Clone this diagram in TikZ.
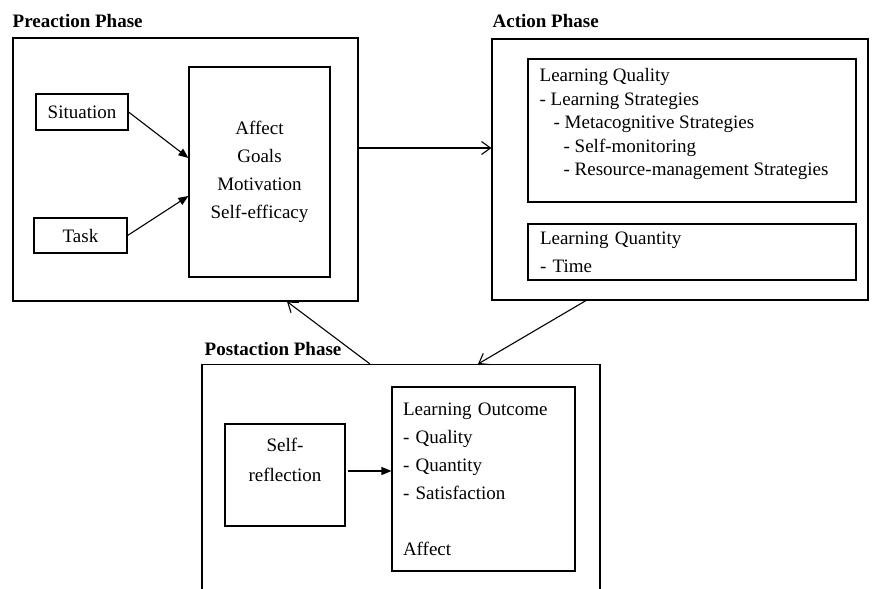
\documentclass[tikz,border=0pt]{standalone}
\usepackage{fontspec}
\setmainfont{Liberation Serif}
\usetikzlibrary{positioning,arrows.meta}

\begin{document}
\begin{tikzpicture}[
x=1pt, y=-1pt,
phase/.style={rectangle, draw=black, line width=1.1pt, inner sep=0pt},
inbox/.style={rectangle, draw=black, line width=1.1pt, inner sep=0pt, align=center, font=\fontsize{19}{28}\selectfont},
listing/.style={inner sep=0pt, align=left, font=\fontsize{19}{23.5}\selectfont},
title/.style={anchor=base west, inner sep=0pt, font=\fontsize{19}{22}\selectfont\bfseries},
flow/.style={-{Triangle[length=10pt, width=8pt]}, line width=1.1pt},
link/.style={-{Straight Barb[length=9pt, width=13pt]}, line width=1.1pt},
]
\useasboundingbox (0,0) rectangle (876,589);
\clip (0,0) rectangle (876,589);

% preaction phase
\node[phase, minimum width=345pt, minimum height=263pt] (pre) at (185.5,169.5) {};
\node[title] (pretitle) at ([yshift=10pt]pre.north west) {Preaction Phase};
\node[inbox, minimum width=92pt, minimum height=36pt] (situation) at (82,112) {Situation};
\node[inbox, minimum width=93pt, minimum height=35pt] (task) at (80.5,235.5) {Task};
\node[inbox, minimum width=141pt, minimum height=210pt] (affect) at (259.5,172)
	{Affect\\Goals\\Motivation\\Self-efficacy};
\draw[flow] (situation.east) -- ([yshift=14pt]affect.west);
\draw[flow] (task.east) -- ([yshift=-24pt]affect.west);

% action phase
\node[phase, minimum width=376pt, minimum height=261pt] (act) at (680,169.5) {};
\node[title] (acttitle) at ([xshift=1pt, yshift=11pt]act.north west) {Action Phase};
\node[phase, minimum width=328pt, minimum height=143pt] (quality) at (692,130.5) {};
\node[listing, below right=10pt and 12pt of quality.north west] (qualitytext)
	{Learning Quality\\- Learning Strategies\\\hspace*{14pt}- Metacognitive Strategies\\
	\hspace*{24pt}- Self-monitoring\\\hspace*{24pt}- Resource-management Strategies};
\node[phase, minimum width=328pt, minimum height=56pt, text width=304pt, align=left,
	font=\fontsize{19}{28}\selectfont] (quantity) at (692,252) {Learning Quantity\\- Time};

% postaction phase
\node[phase, minimum width=398pt, minimum height=300pt, anchor=north] (post) at (401,364) {};
\node[title] (posttitle) at ([xshift=3pt, yshift=9pt]post.north west) {Postaction Phase};
\node[inbox, minimum width=120pt, minimum height=102pt, font=\fontsize{19}{30}\selectfont]
	(reflection) at (285,475) {Self-\\reflection\\~};
\node[phase, minimum width=183pt, minimum height=184pt, text width=161pt, align=left,
	font=\fontsize{19}{28}\selectfont] (outcome) at (483.5,479)
	{Learning Outcome\\- Quality\\- Quantity\\- Satisfaction\\[28pt]Affect};
\draw[flow] ([xshift=2pt, yshift=4pt]reflection.east) -- ([yshift=8pt]outcome.west);

% between phases
\draw[link] ([yshift=21.5pt]pre.east) -- ([yshift=21.5pt]act.west);
\draw[link] ([xshift=-94pt]act.south) -- ([xshift=77pt]post.north);
\draw[link] ([xshift=-31pt]post.north) -- ([xshift=101.5pt]pre.south);
\end{tikzpicture}
\end{document}
